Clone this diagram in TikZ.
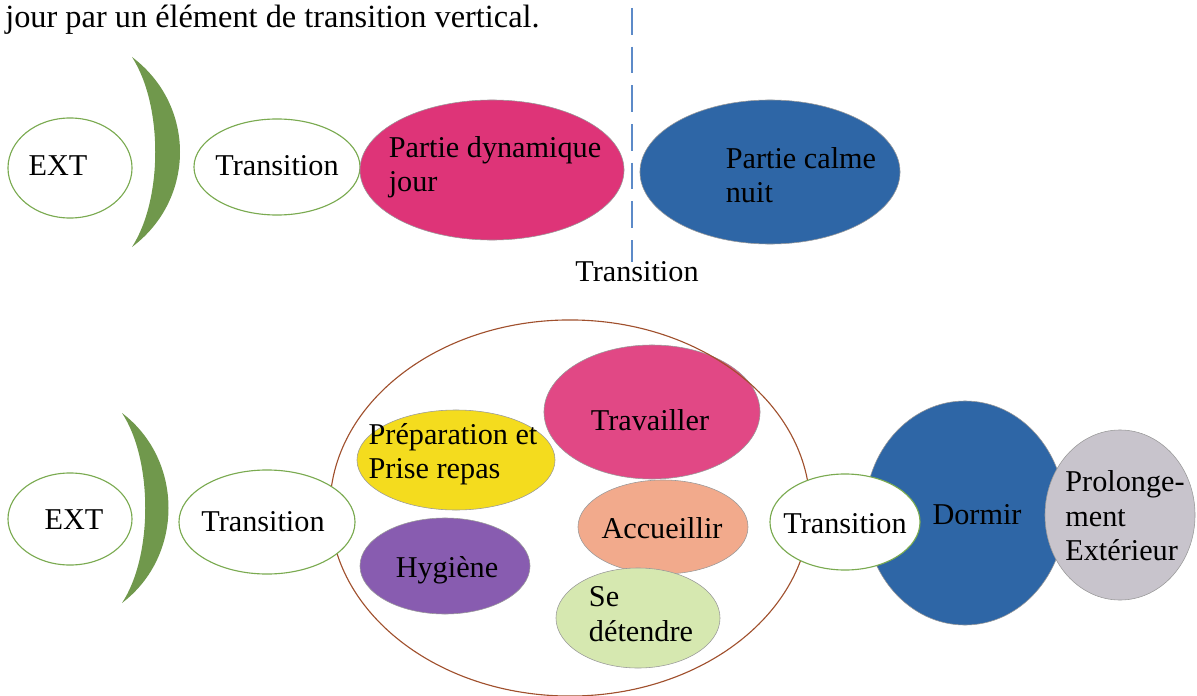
\documentclass[tikz,border=0pt]{standalone}
\usepackage{fontspec}
\setmainfont{Liberation Serif}
\usetikzlibrary{positioning, shapes.geometric}

\definecolor{rosejour}{RGB}{222,52,120}
\definecolor{bleunuit}{RGB}{46,102,166}
\definecolor{vertarc}{RGB}{112,152,76}
\definecolor{vertbord}{RGB}{122,170,80}
\definecolor{jaune}{RGB}{244,220,30}
\definecolor{violet}{RGB}{136,92,176}
\definecolor{saumon}{RGB}{242,170,140}
\definecolor{vertpale}{RGB}{214,232,176}
\definecolor{grisclair}{RGB}{200,196,204}
\definecolor{brun}{RGB}{160,80,45}
\definecolor{tirets}{RGB}{92,138,200}

\begin{document}
\begin{tikzpicture}[
                x=0.025cm, y=-0.025cm,
                txt/.style={font=\fontsize{21.5}{24.5}\selectfont, inner sep=0pt, align=left},
                porte/.style={draw=vertbord, thick, ellipse, fill=white, inner sep=0pt},
                zone/.style={draw=gray!80, ellipse, inner sep=0pt},
                arc/.style={fill=vertarc, draw=none}
            ]
            \useasboundingbox (0,0) rectangle (1197,696);
            % Titre
            \node[txt, font=\fontsize{23}{26}\selectfont, anchor=base west] (titre) at (5,28) {jour par un élément de transition vertical.};

            % Nodes (ligne du haut)
            \node[porte, minimum width=3.1cm, minimum height=2.5cm] (ext1) at (70,168) {};
            \node[txt] (ext1txt) at (58,166) {EXT};
            \draw[arc] (132,57) .. controls (196,105) and (196,199) .. (132,247) .. controls (163,199) and (163,105) .. (132,57);
            \node[porte, minimum width=4.15cm, minimum height=2.4cm] (trans1) at (277,167) {};
            \node[txt] (trans1txt) at (277,166) {Transition};
            \node[zone, fill=rosejour, minimum width=6.6cm, minimum height=3.5cm] (jour) at (492,170) {};
            \node[txt] (jourtxt) at (495,167) {Partie dynamique\\jour};
            \node[zone, fill=bleunuit, minimum width=6.5cm, minimum height=3.6cm] (nuit) at (770,172) {};
            \node[txt] (nuittxt) at (801,175) {Partie calme\\nuit};

            % Limite verticale
            \coordinate (haut) at (632,8);
            \coordinate (bas) at (632,262);
            \draw[tirets, line width=1.6pt, dash pattern=on 19pt off 8.5pt] (haut) -- (bas);
            \node[txt] (transv) at (637,272) {Transition};

            % Nodes (ligne du bas)
            \node[porte, minimum width=3.1cm, minimum height=2.3cm] (ext2) at (70,519) {};
            \node[txt] (ext2txt) at (74,520) {EXT};
            \draw[arc] (122,413) .. controls (184,460) and (184,556) .. (122,603) .. controls (153,556) and (153,460) .. (122,413);
            \node[zone, fill=jaune, minimum width=4.95cm, minimum height=2.5cm] (repas) at (456,460) {};
            \node[txt] (repastxt) at (453,454) {Préparation et\\Prise repas};
            \node[zone, fill=violet, minimum width=4.25cm, minimum height=2.4cm] (hygiene) at (445,566) {};
            \node[txt] (hygienetxt) at (447,570) {Hygiène};
            \node[zone, fill=rosejour!90!white, minimum width=5.4cm, minimum height=3.35cm] (travail) at (652,412) {};
            \node[txt] (travailtxt) at (650,420) {Travailler};
            \node[zone, fill=saumon, minimum width=4.25cm, minimum height=2.35cm] (accueil) at (663,527) {};
            \node[txt] (accueiltxt) at (662,528) {Accueillir};
            \node[zone, fill=vertpale, minimum width=4.1cm, minimum height=2.5cm] (detente) at (638,618) {};
            \node[txt] (detentetxt) at (641,614) {Se\\détendre};
            \node[draw=brun, thick, ellipse, minimum width=12cm, minimum height=9.4cm] (cercle) at (570,508) {};
            \node[zone, fill=bleunuit, minimum width=5cm, minimum height=5.6cm] (dormir) at (965,513) {};
            \node[txt] (dormirtxt) at (977,515) {Dormir};
            \node[zone, fill=grisclair, minimum width=3.75cm, minimum height=4.25cm] (prolong) at (1120,515) {};
            \node[txt] (prolongtxt) at (1125,516) {Prolonge-\\ment\\Extérieur};
            \node[porte, minimum width=3.75cm, minimum height=2.4cm] (trans3) at (845,522) {};
            \node[txt] (trans3txt) at (845,524) {Transition};
            \node[porte, minimum width=4.4cm, minimum height=2.6cm] (trans2) at (267,522) {};
            \node[txt] (trans2txt) at (263,522) {Transition};
\end{tikzpicture}
\end{document}
